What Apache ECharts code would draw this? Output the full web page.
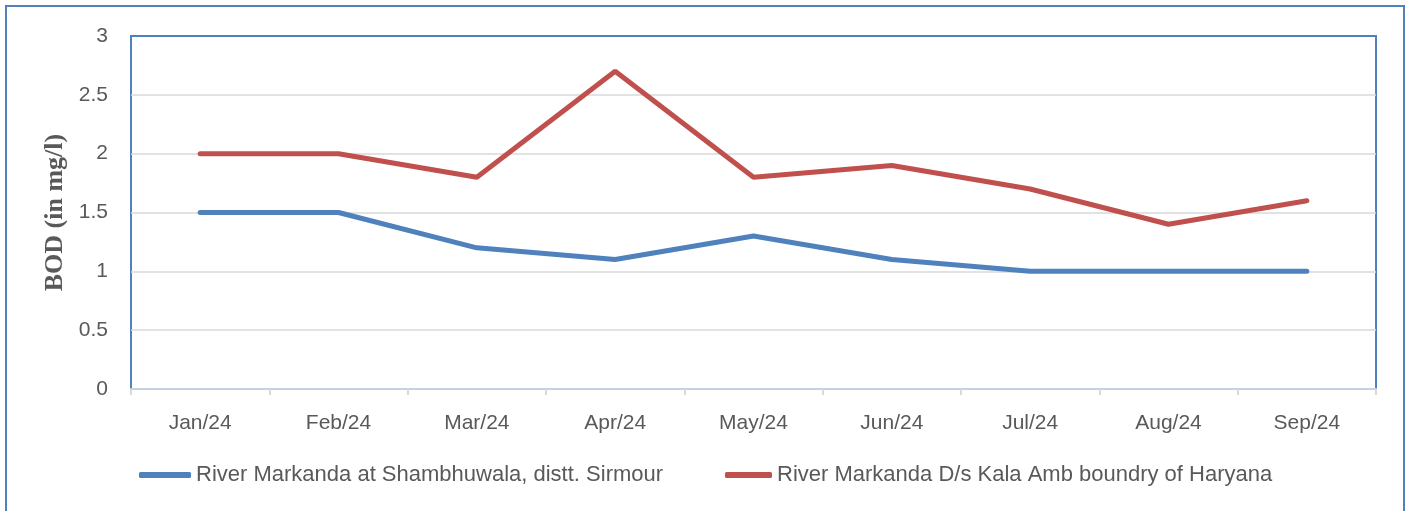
<!DOCTYPE html>
<html>
<head>
<meta charset="utf-8">
<script src="https://cdn.jsdelivr.net/npm/echarts@6/dist/echarts.min.js"></script>
<style>
  html, body { margin: 0; padding: 0; background: #fff; }
  #main { width: 1408px; height: 511px; }
</style>
</head>
<body>
<div id="main"></div>
<script>
// data
var months = ['Jan/24', 'Feb/24', 'Mar/24', 'Apr/24', 'May/24', 'Jun/24', 'Jul/24', 'Aug/24', 'Sep/24'];
var shambhuwala = [1.5, 1.5, 1.2, 1.1, 1.3, 1.1, 1.0, 1.0, 1.0];
var kalaAmb = [2.0, 2.0, 1.8, 2.7, 1.8, 1.9, 1.7, 1.4, 1.6];
var nameBlue = 'River Markanda at Shambhuwala, distt. Sirmour';
var nameRed = 'River Markanda D/s Kala Amb boundry of Haryana';

var font = 'Liberation Sans, Arial, sans-serif';
var myChart = echarts.init(document.getElementById('main'));
var option = {
    animation: false,
    // outer chart frame
    graphic: [{
        type: 'rect',
        shape: { x: 6, y: 6, width: 1398, height: 520 },
        style: { fill: 'none', stroke: '#4f81bd', lineWidth: 2 },
        silent: true
    }],
    legend: [{
        left: 139, top: 464, padding: 0,
        data: [{ name: nameBlue, icon: 'roundRect' }],
        itemWidth: 52, itemHeight: 6,
        textStyle: { fontFamily: font, fontSize: 22, color: '#595959' }
    }, {
        left: 725, top: 464, padding: 0,
        data: [{ name: nameRed, icon: 'roundRect' }],
        itemWidth: 47, itemHeight: 6,
        textStyle: { fontFamily: font, fontSize: 22, color: '#595959' }
    }],
    grid: {
        left: 131, right: 32, top: 36, bottom: 122,
        show: true, borderColor: '#4f81bd', borderWidth: 2
    },
    xAxis: {
        type: 'category',
        data: months,
        boundaryGap: true,
        axisLine: { lineStyle: { color: '#c6d0de', width: 2 } },
        axisTick: { show: true, length: 6, lineStyle: { color: '#d9d9d9', width: 2 } },
        axisLabel: { fontFamily: font, fontSize: 21, color: '#595959', margin: 24 }
    },
    yAxis: {
        type: 'value',
        min: 0, max: 3, interval: 0.5,
        name: 'BOD (in mg/l)',
        nameLocation: 'middle',
        nameGap: 59,
        nameTextStyle: { fontFamily: 'Liberation Serif, Times New Roman, serif', fontSize: 26, fontWeight: 'bold', color: '#595959' },
        axisLine: { show: false },
        axisTick: { show: false },
        axisLabel: { fontFamily: font, fontSize: 21, color: '#595959', margin: 23 },
        splitLine: { showMinLine: false, showMaxLine: false, lineStyle: { color: '#d9d9d9', width: 1.5 } }
    },
    series: [{
        name: nameBlue,
        type: 'line',
        data: shambhuwala,
        symbol: 'none',
        lineStyle: { color: '#4f81bd', width: 5, cap: 'round' },
        itemStyle: { color: '#4f81bd' }
    }, {
        name: nameRed,
        type: 'line',
        data: kalaAmb,
        symbol: 'none',
        lineStyle: { color: '#c0504d', width: 5, cap: 'round' },
        itemStyle: { color: '#c0504d' }
    }]
};
myChart.setOption(option);
</script>
</body>
</html>
